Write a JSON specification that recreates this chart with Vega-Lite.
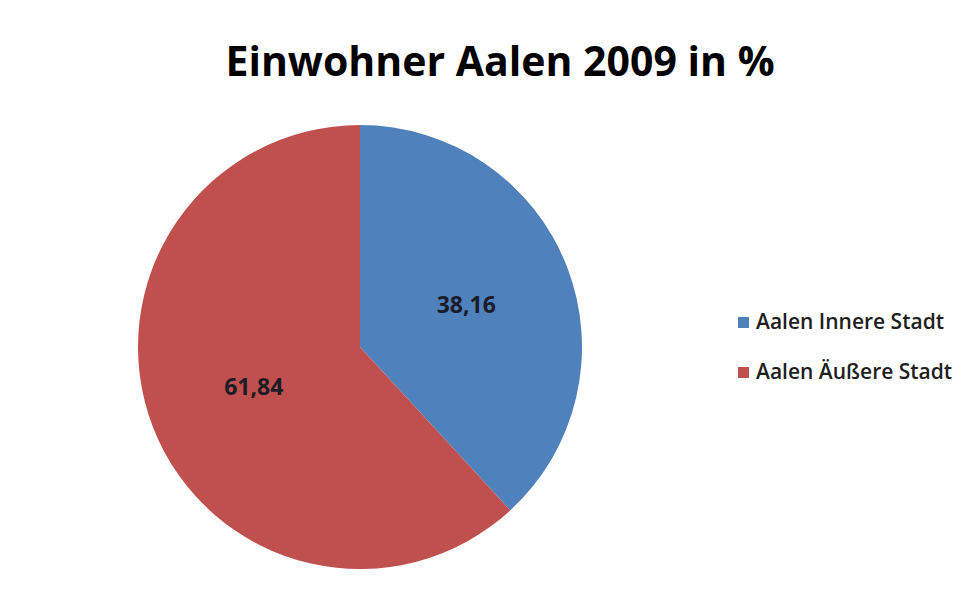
{
  "$schema": "https://vega.github.io/schema/vega-lite/v6.json",
  "width": 444,
  "height": 444,
  "autosize": {"type": "none"},
  "padding": {"left": 138, "top": 125, "right": 394, "bottom": 20},
  "background": "white",
  "config": {
    "view": {"stroke": null},
    "locale": {"number": {"decimal": ",", "thousands": ".", "grouping": [3], "currency": ["", " €"]}}
  },
  "title": {
    "text": "Einwohner Aalen 2009 in %",
    "font": "Open Sans",
    "fontSize": 41,
    "fontWeight": "bold",
    "color": "#000000",
    "anchor": "middle",
    "dx": 140,
    "baseline": "alphabetic",
    "offset": 8
  },
  "data": {
    "values": [
      {"gebiet": "Aalen Innere Stadt", "anteil": 38.16, "ord": 1},
      {"gebiet": "Aalen Äußere Stadt", "anteil": 61.84, "ord": 2}
    ]
  },
  "encoding": {
    "theta": {"field": "anteil", "type": "quantitative", "stack": true},
    "order": {"field": "ord", "type": "quantitative"}
  },
  "layer": [
    {
      "mark": {"type": "arc"},
      "encoding": {
        "color": {
          "field": "gebiet",
          "type": "nominal",
          "scale": {"domain": ["Aalen Innere Stadt", "Aalen Äußere Stadt"], "range": ["#4F81BD", "#C0504D"]},
          "legend": {
            "title": null,
            "orient": "none",
            "legendX": 595,
            "legendY": 187,
            "symbolType": "square",
            "symbolSize": 121,
            "symbolStrokeWidth": 0,
            "labelFont": "Open Sans",
            "labelFontSize": 21,
            "labelFontWeight": 600,
            "labelColor": "#1e1e1e",
            "labelLimit": 400,
            "rowPadding": 28,
            "padding": 0,
            "labelOffset": 2
          }
        }
      }
    },
    {
      "mark": {"type": "text", "radius": 114, "font": "Open Sans", "fontSize": 23, "fontWeight": "bold", "color": "#1c1c28"},
      "encoding": {
        "text": {"field": "anteil", "type": "quantitative", "format": ".2f"}
      }
    }
  ]
}
